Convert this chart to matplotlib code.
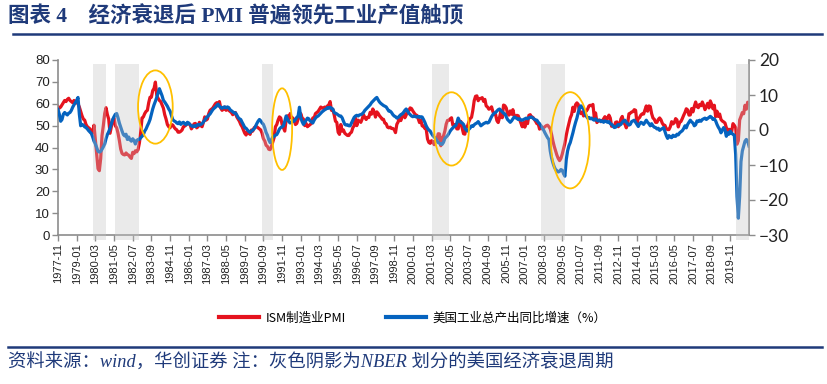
import numpy as np
import pandas as pd
import matplotlib
matplotlib.use("Agg")
import matplotlib.pyplot as plt
from matplotlib.patches import Ellipse
from matplotlib.lines import Line2D

# ---------------- data (monthly, 1977-11 .. 2021-01) ----------------
start_month = "1977-11"

pmi = [
    58.7, 58.0,
    58.5, 59.5, 60.5, 61.5, 61.0, 62.0, 62.5, 61.5, 61.0, 60.5, 61.5, 61.0,
    60.5, 60.0, 58.5, 56.5, 54.5, 53.0, 52.5, 50.5, 49.5, 49.0, 48.5, 46.5,
    47.0, 50.2, 43.6, 37.4, 30.3, 29.4, 35.0, 45.5, 50.1, 55.5, 58.2, 55.1,
    53.0, 46.5, 49.6, 52.5, 53.6, 49.9, 49.0, 46.5, 43.2, 39.3, 37.3, 36.8,
    36.6, 37.5, 36.8, 36.5, 35.6, 35.0, 37.8, 37.2, 38.5, 38.0, 39.0, 42.0,
    47.0, 53.5, 54.0, 55.5, 56.5, 57.0, 60.5, 63.0, 63.0, 66.0, 67.0, 69.9,
    64.0, 62.5, 61.5, 61.0, 59.5, 58.0, 55.0, 53.0, 50.5, 49.5, 49.0, 50.5,
    50.3, 49.3, 48.5, 48.1, 47.0, 47.0, 47.4, 48.0, 49.5, 49.8, 50.3, 50.8,
    51.0, 50.5, 48.5, 49.5, 50.8, 51.0, 49.0, 49.5, 51.5, 50.0, 49.5, 51.5,
    54.0, 52.5, 53.0, 55.5, 57.0, 57.5, 58.0, 59.0, 60.0, 60.5, 59.0, 61.0,
    58.0, 57.0, 57.5, 58.5, 57.0, 58.0, 57.0, 56.5, 56.0, 55.0, 55.5, 56.0,
    54.0, 53.0, 52.0, 50.5, 49.5, 48.0, 46.5, 45.7, 47.5, 46.5, 46.0, 48.0,
    47.5, 49.0, 49.5, 49.5, 49.0, 48.5, 48.0, 46.5, 44.0, 43.0, 41.0, 40.5,
    39.2, 39.0, 40.5, 42.5, 44.5, 49.5, 50.5, 52.5, 54.0, 53.5, 50.5, 49.0,
    47.5, 52.5, 54.5, 53.0, 55.5, 53.5, 53.5, 52.5, 50.5, 51.0, 53.0, 54.0,
    55.5, 53.5, 53.0, 50.0, 51.0, 49.5, 50.0, 50.5, 51.0, 53.5, 53.5, 55.5,
    56.0, 56.5, 57.5, 58.5, 58.0, 58.0, 58.5, 58.0, 59.0, 59.5, 61.0, 57.0,
    57.5, 55.0, 52.0, 51.5, 47.0, 46.0, 50.5, 47.5, 48.0, 46.5, 46.0, 45.5,
    45.5, 46.5, 47.0, 49.0, 50.0, 53.5, 50.0, 52.5, 52.0, 51.5, 53.0, 55.0,
    53.8, 52.8, 53.8, 53.7, 56.1, 55.2, 57.6, 56.3, 53.9, 56.3, 55.6, 54.5,
    53.8, 52.9, 52.9, 51.2, 50.9, 49.3, 49.0, 49.3, 48.7, 48.7, 48.2, 46.8,
    50.6, 51.7, 54.3, 52.3, 54.6, 55.8, 53.6, 54.8, 57.0, 56.8, 58.1, 57.8,
    56.7, 55.8, 54.9, 54.7, 53.2, 51.4, 52.5, 49.9, 49.7, 48.7, 48.5, 43.9,
    42.3, 41.9, 43.1, 42.7, 41.3, 43.2, 43.5, 46.3, 46.2, 40.8, 44.1, 45.3,
    47.5, 50.7, 52.4, 52.4, 53.1, 53.6, 50.2, 50.3, 50.5, 48.5, 48.5, 51.6,
    51.9, 48.8, 46.3, 46.1, 49.4, 49.8, 51.8, 53.2, 53.8, 57.0, 61.4, 63.4,
    63.6, 61.4, 62.4, 62.4, 62.8, 61.1, 62.0, 59.0, 58.5, 57.5, 57.8, 58.6,
    56.4, 55.3, 55.2, 52.3, 51.4, 53.8, 56.6, 53.6, 59.4, 59.1, 58.1, 55.6,
    54.8, 56.7, 55.2, 57.3, 54.4, 53.8, 54.7, 54.5, 52.9, 51.2, 49.5, 51.4,
    49.3, 52.3, 50.9, 54.7, 55.0, 53.8, 53.8, 52.9, 52.0, 50.9, 50.8, 48.4,
    50.0, 48.5, 49.0, 49.5, 50.0, 50.2, 49.5, 48.5, 46.0, 43.0, 40.5, 38.5,
    36.5, 35.0, 34.0, 35.0, 37.0, 39.5, 42.0, 45.5, 48.5, 51.0, 53.5, 55.0,
    58.4, 56.5, 59.6, 60.4, 59.7, 56.2, 55.5, 56.3, 54.4, 56.9, 56.6, 57.5,
    59.0, 59.3, 59.1, 59.7, 53.7, 55.8, 51.4, 52.5, 52.5, 51.8, 52.2, 53.1,
    54.1, 52.4, 53.4, 54.8, 53.5, 49.7, 49.8, 49.6, 51.5, 51.7, 49.5, 50.4,
    53.1, 54.2, 51.3, 50.7, 49.0, 50.9, 55.4, 55.7, 56.2, 56.4, 57.3, 57.0,
    51.3, 53.2, 53.7, 54.9, 55.4, 55.3, 57.1, 59.0, 56.6, 59.0, 58.7, 55.5,
    53.5, 52.9, 51.5, 51.5, 52.8, 53.5, 52.7, 51.1, 50.2, 50.1, 48.6, 48.2,
    48.2, 49.5, 51.8, 50.8, 51.3, 53.2, 52.6, 49.4, 51.5, 51.9, 53.2, 54.7,
    56.0, 57.7, 57.2, 54.8, 54.9, 57.8, 56.3, 58.8, 60.8, 58.7, 58.2, 59.7,
    59.1, 60.8, 59.3, 57.3, 58.7, 60.2, 58.1, 61.3, 59.8, 57.7, 59.3, 54.1,
    56.6, 54.2, 55.3, 52.8, 52.1, 51.7, 51.2, 49.1, 47.8, 48.3, 48.1, 47.2,
    50.9, 50.1, 49.1, 41.5, 43.1, 52.6, 54.2, 56.0, 55.4, 59.3, 57.5, 60.7,
    60.5,
]

ip_yoy = [
    5.9, 4.5,
    2.5, 3.0, 4.5, 5.0, 4.6, 4.3, 4.8, 5.0, 5.6, 6.5, 7.2, 7.8,
    8.5, 9.3, 4.5, 1.2, 1.6, 1.4, 0.9, 0.7, 0.3, -0.2, -0.6, -1.0,
    -2.0, -3.2, -4.0, -5.0, -6.1, -6.3, -6.1, -5.5, -4.8, -4.0, -2.5, -1.3,
    -0.5, 0.5, 1.8, 3.0, 3.8, 4.5, 4.7, 3.5, 2.0, 0.8, -0.3, -1.3,
    -1.7, -1.2, -2.7, -2.0, -2.8, -3.2, -2.5, -3.0, -4.0, -3.0, -2.7, -2.7,
    -2.2, -1.8, -1.3, -0.3, 0.3, 1.2, 2.0, 3.0, 4.5, 6.0, 7.2, 8.2,
    9.3, 10.5, 11.8, 10.8, 9.8, 8.5, 8.0, 7.4, 6.8, 6.0, 5.4, 4.2,
    3.0, 2.6, 2.4, 2.0, 1.8, 2.3, 1.6, 2.0, 2.2, 1.8, 1.5, 2.2,
    2.0, 1.5, 1.2, 1.0, 1.2, 1.0, 1.3, 1.6, 1.4, 1.6, 1.8, 2.3,
    2.8, 3.4, 3.8, 4.2, 4.6, 5.2, 5.8, 6.2, 6.5, 7.0, 7.4, 6.8,
    6.4, 6.2, 6.5, 6.6, 6.3, 6.6, 6.4, 5.8, 5.5, 5.2, 4.9, 4.9,
    4.3, 3.6, 3.2, 3.0, 2.2, 1.5, 0.7, 0.5, 0.0, -0.4, -0.7, -0.3,
    0.0, 0.3, 1.0, 1.8, 2.5, 3.0, 2.6, 2.0, 1.6, 0.6, -0.7, -1.5,
    -2.8, -3.6, -2.8, -2.0, -1.8, -1.5, -1.3, -0.6, 0.3, 0.7, 0.9, 1.2,
    2.5, 4.0, 3.2, 2.4, 2.0, 2.3, 2.6, 2.5, 3.0, 3.6, 4.0, 6.5,
    3.5, 2.4, 1.6, 2.2, 2.8, 3.4, 3.2, 2.6, 2.3, 2.0, 2.8, 3.4,
    3.8, 4.0, 4.4, 4.8, 5.2, 5.5, 5.8, 6.0, 6.4, 6.2, 6.5, 6.2,
    6.0, 5.0, 4.8, 4.6, 4.3, 4.0, 4.0, 3.5, 2.5, 1.6, 1.4, 1.5,
    1.2, 1.2, 2.0, 2.8, 3.6, 4.0, 4.2, 4.0, 4.3, 4.4, 4.6, 5.0,
    5.6, 6.0, 6.4, 6.8, 7.2, 7.8, 8.2, 8.6, 9.0, 9.3, 8.6, 8.0,
    7.6, 7.3, 7.0, 6.8, 6.6, 6.0, 5.4, 5.4, 5.0, 4.4, 4.0, 3.8,
    3.4, 3.6, 4.0, 4.4, 4.6, 5.0, 5.6, 6.0, 5.4, 4.8, 4.4, 4.0,
    3.8, 4.0, 3.8, 3.7, 3.9, 3.6, 3.8, 3.7, 3.0, 2.2, 1.2, 0.5,
    0.0, -0.3, -1.0, -1.6, -2.0, -2.4, -3.0, -3.6, -3.8, -4.0, -4.1, -3.5,
    -2.4, -2.0, -1.6, -1.0, -0.3, 0.2, 0.6, 1.0, 1.2, 2.0, 3.4, 2.6,
    2.2, 2.0, 1.6, 0.6, 0.0, -0.3, 0.2, 0.6, 1.2, 1.0, 1.5, 1.8,
    2.0, 2.4, 1.8, 1.2, 1.5, 1.8, 2.0, 2.2, 2.0, 2.2, 3.0, 3.8,
    4.4, 4.8, 5.0, 5.4, 5.8, 6.0, 5.6, 5.2, 4.8, 4.6, 3.8, 3.0,
    2.6, 2.2, 2.6, 3.2, 3.7, 3.5, 3.3, 3.0, 3.2, 2.8, 2.8, 3.0,
    3.2, 3.4, 3.2, 3.5, 3.6, 3.7, 3.4, 3.1, 2.9, 2.8, 2.2, 1.8,
    1.2, 0.5, 0.0, -0.8, -1.5, -2.2, -2.7, -6.0, -8.0, -9.4, -10.5, -11.3,
    -11.6, -12.0, -11.8, -11.3, -11.5, -12.5, -13.2, -8.5, -6.0, -4.5, -3.6, -2.2,
    -0.8, 0.8, 2.2, 3.4, 5.0, 6.4, 6.9, 6.4, 6.0, 4.8, 4.0, 3.4,
    3.6, 3.2, 3.4, 3.0, 2.8, 3.2, 2.8, 2.6, 2.8, 2.4, 2.6, 2.2,
    2.6, 2.4, 2.2, 2.4, 1.8, 1.6, 1.2, 0.7, 0.8, 1.2, 1.6, 1.4,
    1.6, 2.2, 2.6, 2.8, 2.2, 1.8, 1.4, 1.6, 2.4, 2.6, 2.8, 2.2,
    1.6, 1.0, 1.8, 2.2, 2.0, 1.6, 2.2, 2.8, 2.2, 1.8, 1.2, 1.8,
    1.2, 0.8, 0.7, 0.3, 0.5, -0.1, 0.2, 0.4, 0.7, -0.5, -1.6, -2.4,
    -1.6, -2.0, -2.2, -1.5, -1.8, -1.8, -1.2, -1.4, -0.8, -0.5, -0.2, 0.4,
    1.2, 0.6, 1.6, 2.2, 2.8, 2.3, 2.0, 1.2, 1.5, 2.6, 2.4, 2.8,
    2.5, 3.0, 3.2, 3.4, 3.0, 3.3, 3.6, 3.9, 3.6, 3.0, 3.2, 2.6,
    1.6, 0.8, 0.2, -0.8, 0.0, 0.7, 0.0, -1.8, -0.8, -1.2, -0.3, -1.0,
    -1.2, -1.5, -7.0, -19.0, -25.2, -19.0, -9.0, -6.0, -4.6, -3.2, -2.7, -3.2,
    -4.6,
]

# NBER recession shading (start, end month)
recessions = [("1980-01", "1980-11"), ("1981-06", "1982-12"),
              ("1990-08", "1991-04"), ("2001-03", "2002-04"),
              ("2008-01", "2009-07"), ("2020-03", "2021-01")]

# highlighted turning points: (centre month, centre PMI-axis value, width months, height)
highlights = [("1983-12", 58.5, 26, 33.5), ("1991-11", 48.4, 15, 37.3),
              ("2002-06", 48.5, 26, 33.5), ("2009-11", 43.3, 29, 44.0)]

title = "图表 4    经济衰退后 PMI 普遍领先工业产值触顶"
source = "资料来源：wind，华创证券 注：灰色阴影为NBER 划分的美国经济衰退周期"
label_pmi = "ISM制造业PMI"
label_ip = "美国工业总产出同比增速（%）"
tick_step = 14
last_label = "2019-11"

# ---------------- drawing ----------------
assert len(pmi) == len(ip_yoy), (len(pmi), len(ip_yoy))
n = len(pmi)
months = pd.period_range(start_month, periods=n, freq="M")
x = np.arange(n)
pos = {p.strftime("%Y-%m"): i for i, p in enumerate(months)}

RED = "#E5131E"
BLUE = "#0563BF"
GOLD = "#FFC000"
NAVY = "#1F3A7A"
AXC = "#8C8C8C"
cjk = ["Noto Sans CJK SC", "DejaVu Sans"]

W, H = 827, 384
fig = plt.figure(figsize=(W / 100, H / 100), dpi=100)
ax = fig.add_axes([58 / W, (H - 235) / H, (749 - 58) / W, 175 / H])
ax2 = ax.twinx()

ax.plot(x, pmi, color=RED, lw=2.3, solid_joinstyle="round", zorder=2)
ax2.plot(x, ip_yoy, color=BLUE, lw=2.3, solid_joinstyle="round", zorder=2)

ax.set_xlim(0, n - 1)
ax.set_ylim(0, 80)
ax2.set_ylim(-30, 20)
ax.set_yticks(np.arange(0, 81, 10))
ax2.set_yticks(np.arange(-30, 21, 10))

for s, e in recessions:
    ax2.axvspan(pos[s], pos[e], ymin=-0.03, ymax=0.977, facecolor="#C4C4C4",
                alpha=0.34, lw=0, zorder=3, clip_on=False)

for c, yv, w, h in highlights:
    ax2.add_patch(Ellipse((pos[c], yv), w, h, transform=ax.transData,
                          fill=False, edgecolor=GOLD, lw=1.3, zorder=5))

tick_idx = np.arange(0, pos[last_label] + 1, tick_step)
ax.set_xticks(tick_idx)
ax.set_xticklabels([months[i].strftime("%Y-%m") for i in tick_idx],
                   rotation=90, fontsize=8, family="Liberation Sans", color="#222222")

for a in (ax, ax2):
    a.spines["top"].set_visible(False)
ax.spines["right"].set_visible(False)
ax2.spines["left"].set_visible(False)
ax2.spines["bottom"].set_visible(False)
for sp in ("left", "bottom"):
    ax.spines[sp].set_color(AXC)
    ax.spines[sp].set_linewidth(1.2)
ax2.spines["right"].set_color(AXC)
ax2.spines["right"].set_linewidth(1.2)

ax.tick_params(axis="x", direction="out", length=4, width=1, color=AXC, pad=2)
ax.tick_params(axis="y", direction="out", length=4, width=1, color=AXC, pad=2,
               labelsize=9.5, labelcolor="#222222")
ax2.tick_params(axis="y", direction="out", length=4, width=1, color=AXC, pad=3,
                labelsize=12.5, labelcolor="#222222")
for t in ax.get_yticklabels():
    t.set_family("Liberation Sans")
for t in ax2.get_yticklabels():
    t.set_family("Lato")

handles = [Line2D([], [], color=RED, lw=3), Line2D([], [], color=BLUE, lw=3)]
fig.legend(handles, [label_pmi, label_ip], loc="center", bbox_to_anchor=(0.499, 1 - 318 / H),
           ncol=2, frameon=False, prop={"family": cjk, "size": 9},
           handlelength=3.2, handletextpad=0.5, columnspacing=3.2)

fig.text(8 / W, 1 - 17 / H, title, fontsize=15.5, fontweight="bold", color=NAVY,
         va="center", ha="left", family=["Liberation Serif", "Noto Sans CJK SC"])
fig.add_artist(Line2D([13 / W, 822 / W], [1 - 34 / H] * 2, color=NAVY, lw=1.8))
fig.add_artist(Line2D([8 / W, 822 / W], [1 - 347 / H] * 2, color=NAVY, lw=1.8))
fig.text(8 / W, 1 - 363 / H, source, fontsize=13.2, style="italic", color=NAVY,
         va="center", ha="left", family=["Liberation Serif", "Noto Sans CJK SC"])

fig.savefig("out.png", dpi=100)
